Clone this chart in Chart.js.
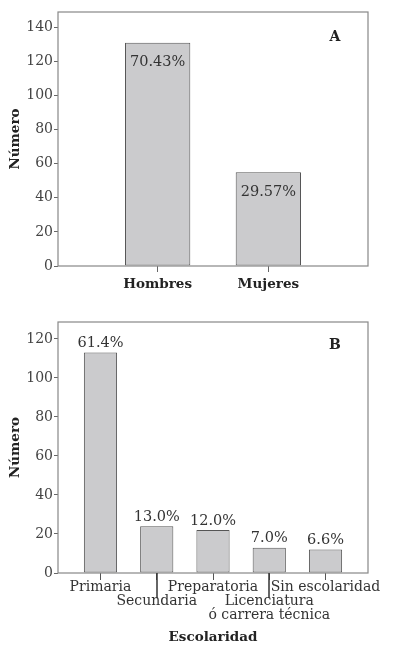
<!DOCTYPE html>
<html>
<head>
<meta charset="utf-8">
<script src="https://cdn.jsdelivr.net/npm/chart.js@4.4.0/dist/chart.umd.min.js"></script>
<style>
  body { margin: 0; background: #fff; }
  canvas { display: block; }
</style>
</head>
<body>
<canvas id="chart-a" width="399" height="300"></canvas>
<canvas id="chart-b" width="399" height="348"></canvas>
<script>
// panel A - sexo
var sexLabels = ["Hombres", "Mujeres"];
var sexCounts = [131, 55];
var sexPct = ["70.43%", "29.57%"];
var yTicksA = [0, 20, 40, 60, 80, 100, 120, 140];

// panel B - escolaridad (empty first line = label on lower row)
var schoolLabels = [["Primaria"], ["", "Secundaria"], ["Preparatoria"], ["", "Licenciatura", "ó carrera técnica"], ["Sin escolaridad"]];
var schoolCounts = [113, 24, 22, 13, 12];
var schoolPct = ["61.4%", "13.0%", "12.0%", "7.0%", "6.6%"];
var yTicksB = [0, 20, 40, 60, 80, 100, 120];

var serif = '"DejaVu Serif", "Liberation Serif", serif';
var barFill = "#cbcbcd";
var barEdge = "#555";
var boxColor = "#888";

// frame around the plot area
var boxPlugin = {
    id: "box",
    afterDraw: function (chart) {
        var a = chart.chartArea;
        var ctx = chart.ctx;
        ctx.save();
        ctx.strokeStyle = boxColor;
        ctx.lineWidth = 1.2;
        ctx.strokeRect(a.left, a.top, a.right - a.left, a.bottom - a.top);
        ctx.restore();
    }
};

function pctPlugin(texts, inside) {
    return {
        id: "pct",
        afterDatasetsDraw: function (chart) {
            var ctx = chart.ctx;
            var bars = chart.getDatasetMeta(0).data;
            ctx.save();
            ctx.font = "14.5px " + serif;
            ctx.fillStyle = "#333";
            ctx.textAlign = "center";
            ctx.textBaseline = "middle";
            bars.forEach(function (bar, i) {
                ctx.fillText(texts[i], bar.x, inside ? bar.y + 20 : bar.y - 9);
            });
            ctx.restore();
        }
    };
}

function letterPlugin(letter, dy) {
    return {
        id: "letter",
        afterDraw: function (chart) {
            var a = chart.chartArea;
            var ctx = chart.ctx;
            ctx.save();
            ctx.font = "bold 14px " + serif;
            ctx.fillStyle = "#222";
            ctx.textAlign = "center";
            ctx.textBaseline = "middle";
            ctx.fillText(letter, a.right - 33, a.top + dy);
            ctx.restore();
        }
    };
}

function yScale(max, ticks) {
    return {
        min: 0,
        max: max,
        afterBuildTicks: function (scale) {
            scale.ticks = ticks.map(function (v) { return { value: v }; });
        },
        afterFit: function (scale) { scale.width = 58; },
        grid: { drawOnChartArea: false, tickLength: 4, color: "#666" },
        border: { display: false },
        ticks: { padding: 1, color: "#444", font: { family: serif, size: 14 } },
        title: {
            display: true,
            text: "Número",
            color: "#222",
            font: { family: serif, size: 13.5, weight: "bold" },
            padding: { top: 7, bottom: 0 }
        }
    };
}

function points(counts) {
    return counts.map(function (v, i) { return { x: i + 1, y: v }; });
}

Chart.defaults.animation = false;

new Chart(document.getElementById("chart-a").getContext("2d"), {
    type: "bar",
    data: {
        datasets: [{
            data: points(sexCounts),
            backgroundColor: barFill,
            borderColor: barEdge,
            borderWidth: 1,
            borderSkipped: false,
            categoryPercentage: 1,
            barPercentage: 0.59
        }]
    },
    options: {
        responsive: false,
        layout: { padding: { top: 12, right: 31, left: 0, bottom: 0 } },
        plugins: { legend: { display: false }, tooltip: { enabled: false } },
        scales: {
            x: {
                type: "linear",
                min: 0.1,
                max: 2.9,
                offset: false,
                afterBuildTicks: function (scale) {
                    scale.ticks = sexLabels.map(function (l, i) { return { value: i + 1 }; });
                },
                afterFit: function (scale) { scale.height = 34; },
                grid: { offset: false, drawOnChartArea: false, tickLength: 6, color: "#666" },
                border: { display: false },
                ticks: {
                    padding: 4,
                    color: "#222",
                    font: { family: serif, size: 13.5, weight: "bold" },
                    callback: function (v, i) { return sexLabels[i]; }
                }
            },
            y: yScale(149, yTicksA)
        }
    },
    plugins: [boxPlugin, pctPlugin(sexPct, true), letterPlugin("A", 25)]
});

// longer tick marks for labels on the lower row
var longTicks = {
    id: "longTicks",
    afterDraw: function (chart) {
        var x = chart.scales.x;
        var base = chart.chartArea.bottom;
        var ctx = chart.ctx;
        ctx.save();
        ctx.strokeStyle = "#333";
        ctx.lineWidth = 1.5;
        schoolLabels.forEach(function (l, i) {
            if (l[0] !== "") return;
            var px = Math.round(x.getPixelForValue(i + 1));
            ctx.beginPath();
            ctx.moveTo(px, base);
            ctx.lineTo(px, base + 25);
            ctx.stroke();
        });
        ctx.restore();
    }
};

new Chart(document.getElementById("chart-b").getContext("2d"), {
    type: "bar",
    data: {
        datasets: [{
            data: points(schoolCounts),
            backgroundColor: barFill,
            borderColor: barEdge,
            borderWidth: 1,
            borderSkipped: false,
            categoryPercentage: 1,
            barPercentage: 0.59
        }]
    },
    options: {
        responsive: false,
        layout: { padding: { top: 22, right: 31, left: 0, bottom: 0 } },
        plugins: { legend: { display: false }, tooltip: { enabled: false } },
        scales: {
            x: {
                type: "linear",
                min: 0.245,
                max: 5.755,
                offset: false,
                afterBuildTicks: function (scale) {
                    scale.ticks = schoolLabels.map(function (l, i) { return { value: i + 1 }; });
                },
                afterFit: function (scale) { scale.height = 75; },
                grid: { offset: false, drawOnChartArea: false, tickLength: 7, color: "#555" },
                border: { display: false },
                ticks: {
                    padding: 0,
                    maxRotation: 0,
                    autoSkip: false,
                    color: "#333",
                    font: { family: serif, size: 14, lineHeight: 1.02 },
                    callback: function (v, i) { return schoolLabels[i]; }
                },
                title: {
                    display: true,
                    text: "Escolaridad",
                    color: "#222",
                    font: { family: serif, size: 13.5, weight: "bold" },
                    padding: { top: 0, bottom: 2 }
                }
            },
            y: yScale(128.7, yTicksB)
        }
    },
    plugins: [boxPlugin, pctPlugin(schoolPct, false), letterPlugin("B", 23), longTicks]
});
</script>
</body>
</html>
